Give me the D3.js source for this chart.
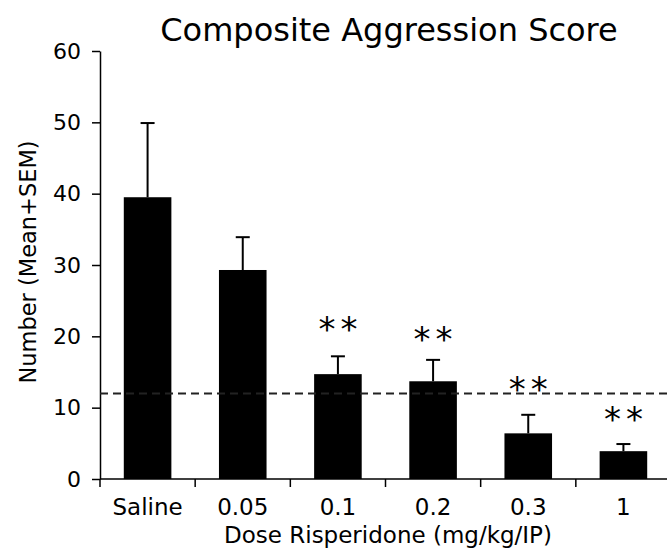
<!DOCTYPE html>
<html>
<head>
<meta charset="utf-8">
<script src="https://cdn.jsdelivr.net/npm/d3@7"></script>
<style>
  body { margin: 0; background: #fff; }
  svg { display: block; }
  .axis path, .axis line { stroke: #000; stroke-width: 1.5; }
  .axis text { font-family: "DejaVu Sans", Verdana, sans-serif; font-size: 22px; fill: #000; }
</style>
</head>
<body>
<svg id="chart" width="667" height="549"></svg>
<script>
const doses = ["Saline", "0.05", "0.1", "0.2", "0.3", "1"];
const means = [39.5, 29.3, 14.7, 13.7, 6.4, 3.9];
const sems = [10.4, 4.6, 2.5, 3.0, 2.6, 1.0];
const stars = ["", "", "**", "**", "**", "**"];
const starLevels = [0, 0, 21.9, 20.5, 13.5, 9.3];
const yTicks = [0, 10, 20, 30, 40, 50, 60];
const baseline = 12;

const svg = d3.select("svg#chart");
const width = +svg.attr("width");
const margin = { top: 51, left: 100, bottom: 70 };
const chartBottom = 479;

const y = d3.scaleLinear().domain([0, 60]).range([chartBottom, margin.top]);
const x = d3.scaleBand().domain(doses).range([margin.left, 671]).paddingInner(0.5).paddingOuter(0.25);

let annotations = svg.append("g").attr("id", "annotations");
let chartArea = svg.append("g").attr("id", "bars");

// y axis
annotations.append("g")
    .attr("class", "y axis")
    .attr("transform", `translate(${margin.left},0)`)
    .call(d3.axisLeft(y).tickValues(yTicks).tickSize(8).tickSizeOuter(0).tickPadding(11));

// x axis: ticks at category borders
const step = x.step();
const borders = d3.range(doses.length + 1).map(i => margin.left + i * step);
annotations.append("line")
    .attr("x1", margin.left).attr("x2", width)
    .attr("y1", chartBottom).attr("y2", chartBottom)
    .attr("stroke", "#000").attr("stroke-width", 1.5);
annotations.selectAll("line.xtick")
    .data(borders)
    .join("line")
    .attr("class", "xtick")
    .attr("x1", d => d).attr("x2", d => d)
    .attr("y1", chartBottom).attr("y2", chartBottom + 8)
    .attr("stroke", "#000").attr("stroke-width", 1.5);
annotations.selectAll("text.xlabel")
    .data(doses)
    .join("text")
    .attr("class", "xlabel")
    .attr("x", d => x(d) + x.bandwidth() / 2)
    .attr("y", chartBottom + 36)
    .attr("text-anchor", "middle")
    .style("font-family", "DejaVu Sans, Verdana, sans-serif")
    .style("font-size", "23px")
    .text(d => d);

// bars
chartArea.selectAll("rect")
    .data(doses)
    .join("rect")
    .attr("x", d => x(d))
    .attr("y", (d, i) => y(means[i]))
    .attr("width", x.bandwidth())
    .attr("height", (d, i) => chartBottom - y(means[i]))
    .attr("fill", "#000");

// error bars (upper only)
const err = chartArea.append("g").attr("id", "errors");
err.selectAll("line.stem")
    .data(doses)
    .join("line")
    .attr("class", "stem")
    .attr("x1", d => x(d) + x.bandwidth() / 2)
    .attr("x2", d => x(d) + x.bandwidth() / 2)
    .attr("y1", (d, i) => y(means[i]))
    .attr("y2", (d, i) => y(means[i] + sems[i]))
    .attr("stroke", "#000").attr("stroke-width", 2);
err.selectAll("line.cap")
    .data(doses)
    .join("line")
    .attr("class", "cap")
    .attr("x1", d => x(d) + x.bandwidth() / 2 - 7)
    .attr("x2", d => x(d) + x.bandwidth() / 2 + 7)
    .attr("y1", (d, i) => y(means[i] + sems[i]))
    .attr("y2", (d, i) => y(means[i] + sems[i]))
    .attr("stroke", "#000").attr("stroke-width", 2);

// dashed reference line
chartArea.append("line")
    .attr("x1", margin.left).attr("x2", width)
    .attr("y1", y(baseline)).attr("y2", y(baseline))
    .attr("stroke", "#222").attr("stroke-width", 2)
    .attr("stroke-dasharray", "8,5");

// significance stars
chartArea.selectAll("text.star")
    .data(doses)
    .join("text")
    .attr("class", "star")
    .attr("x", d => x(d) + x.bandwidth() / 2 + 2.5)
    .attr("y", (d, i) => y(starLevels[i]) + 18)
    .attr("text-anchor", "middle")
    .style("font-family", "DejaVu Sans, Verdana, sans-serif")
    .style("font-size", "34px")
    .style("letter-spacing", "5px")
    .text((d, i) => stars[i]);

// titles
annotations.append("text")
    .attr("x", 389).attr("y", 41)
    .attr("text-anchor", "middle")
    .style("font-family", "DejaVu Sans, Verdana, sans-serif")
    .style("font-size", "32px")
    .text("Composite Aggression Score");

annotations.append("text")
    .attr("x", 388)
    .attr("y", 543)
    .attr("text-anchor", "middle")
    .style("font-family", "DejaVu Sans, Verdana, sans-serif")
    .style("font-size", "23px")
    .text("Dose Risperidone (mg/kg/IP)");

annotations.append("text")
    .attr("transform", `translate(36,262) rotate(-90)`)
    .attr("text-anchor", "middle")
    .style("font-family", "DejaVu Sans, Verdana, sans-serif")
    .style("font-size", "22.5px")
    .text("Number (Mean+SEM)");
</script>
</body>
</html>
